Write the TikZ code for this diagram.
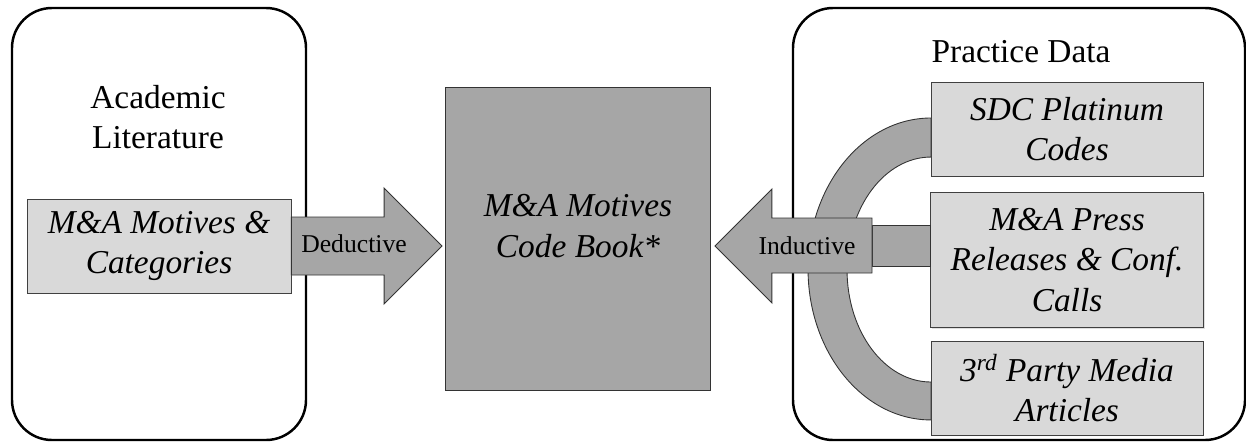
\documentclass[tikz,border=0pt]{standalone}
\usepackage{fontspec}
\setmainfont{Liberation Serif}
\usetikzlibrary{calc,shadows}

\begin{document}
\begin{tikzpicture}[x=0.02cm,y=-0.02cm,
  frame/.style={draw=black,line width=1.4pt,rounded corners=0.8cm},
  srctext/.style={align=center,font=\fontsize{19}{23}\selectfont\itshape},
  srcbox/.style={srctext,draw=black!75,line width=0.5pt,fill=cLight,
    drop shadow={shadow xshift=0.8pt,shadow yshift=-0.8pt,opacity=0.25}},
  flow/.style={draw=black!80,line width=0.5pt,fill=cDark},
  title/.style={align=center,font=\fontsize{19}{23}\selectfont},
  flowlabel/.style={font=\fontsize{14.6}{17}\selectfont}]

% colors
\colorlet{cLight}{black!15}
\colorlet{cDark}{black!35}

\useasboundingbox (0,0) rectangle (1246,447);

% the two outer frames
\draw[frame] (12,8) rectangle (306,440);
\draw[frame] (793,8) rectangle (1245,440);

% titles
\node[title] (littitle) at (158,117) {Academic\\Literature};
\node[title] (practitle) at (1021,52) {Practice Data};

% band collecting the practice sources
\fill[cDark,draw=black!80,line width=0.5pt]
  (931,118) arc[start angle=90,end angle=270,x radius=2.46cm,y radius=3.02cm]
  -- (931,382)
  arc[start angle=270,end angle=90,x radius=1.68cm,y radius=2.25cm]
  -- cycle;

% source boxes
\node[srcbox,minimum width=5.28cm,minimum height=1.88cm] (motives)
  at (159,246) {M\&A Motives \&\\Categories};
\node[srcbox,minimum width=5.44cm,minimum height=1.88cm] (sdc)
  at (1067,129) {SDC Platinum\\Codes};
\node[srcbox,minimum width=5.46cm,minimum height=2.70cm] (press)
  at (1067,260) {M\&A Press\\Releases \& Conf.\\Calls};
\node[srcbox,minimum width=5.44cm,minimum height=1.88cm] (media)
  at (1067,388) {3\textsuperscript{rd} Party Media\\Articles};

% code book
\node[draw=black!80,line width=0.5pt,fill=cDark,
  minimum width=5.30cm,minimum height=6.06cm] (codebook) at (578,239) {};
\node[srctext] (cbtext) at (578,226) {M\&A Motives\\Code Book*};

% deductive arrow
\coordinate (dtip) at ($(codebook.west |- motives.east)+(-3,0)$);
\draw[flow] ($(motives.east)+(0,-29)$) -- ($(dtip)+(-58,-29)$)
  -- ($(dtip)+(-58,-58)$) -- (dtip) -- ($(dtip)+(-58,58)$)
  -- ($(dtip)+(-58,29)$) -- ($(motives.east)+(0,29)$) -- cycle;
\node[flowlabel] (deductive) at (354,244) {Deductive};

% inductive arrow
\coordinate (itip) at ($(codebook.east |- motives.east)+(4,0)$);
\coordinate (iend) at (872,246);
\draw[flow] ($(iend)+(0,-21)$) rectangle ($(press.west |- iend)+(0,20)$);
\draw[flow] (itip) -- ($(itip)+(57,-57)$) -- ($(itip)+(57,-28)$)
  -- ($(iend)+(0,-28)$) -- ($(iend)+(0,27)$) -- ($(itip)+(57,27)$)
  -- ($(itip)+(57,57)$) -- cycle;
\node[flowlabel] (inductive) at (807,246) {Inductive};

\end{tikzpicture}
\end{document}
